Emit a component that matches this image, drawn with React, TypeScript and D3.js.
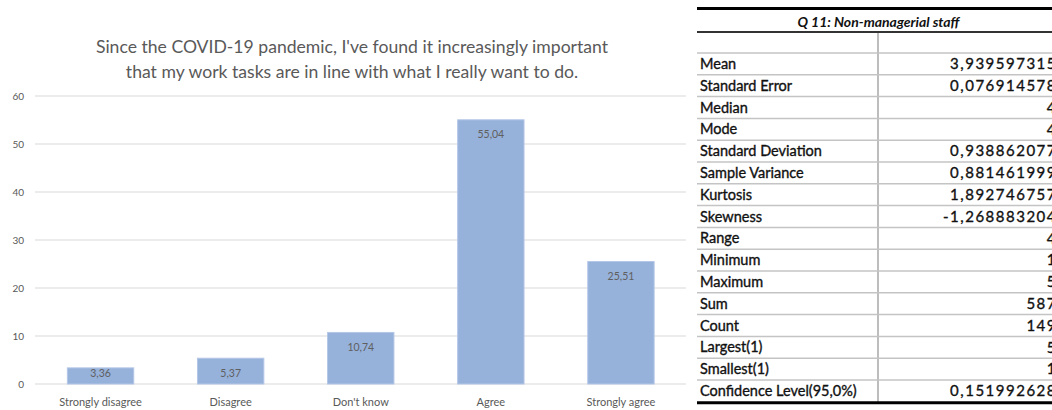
import React from "react";
import * as d3 from "d3";

const categories = ["Strongly disagree", "Disagree", "Don't know", "Agree", "Strongly agree"];
const values = [3.36, 5.37, 10.74, 55.04, 25.51];
const yTicks = [0, 10, 20, 30, 40, 50, 60];
const titleLines = [
  "Since the COVID-19 pandemic, I've found it increasingly important",
  "that my work tasks are in line with what I really want to do.",
];
const tableTitle = "Q 11: Non-managerial staff";
const statLabels = [
  "Mean", "Standard Error", "Median", "Mode", "Standard Deviation", "Sample Variance",
  "Kurtosis", "Skewness", "Range", "Minimum", "Maximum", "Sum", "Count",
  "Largest(1)", "Smallest(1)", "Confidence Level(95,0%)",
];
const statValues = [
  "3,939597315", "0,076914578", "4", "4", "0,938862077", "0,881461999",
  "1,892746757", "-1,268883204", "4", "1", "5", "587", "149",
  "5", "1", "0,151992628",
];

const W = 1052;
const H = 410;
const FONT = "Lato, 'Open Sans', sans-serif";

export default function App() {
  const x = d3.scaleBand<string>().domain(categories).range([35.5, 686]).paddingInner(0.49).paddingOuter(0.245);
  const y = d3.scaleLinear().domain([0, 60]).range([384, 96]);

  const tx0 = 697;
  const tx1 = 1060;
  const colX = 878;
  const rowTop = 53;
  const rowH = 21.8;
  const rows = d3.range(statLabels.length);

  return (
    <svg width={W} height={H} style={{ position: "absolute", left: 0, top: 0, background: "#fff" }} fontFamily={FONT}>
      <rect x={0} y={0} width={W} height={H} fill="#fff" />
      {titleLines.map((t, i) => (
        <text key={i} x={352} y={53 + i * 25} textAnchor="middle" fontSize={17.6} fill="#595959">
          {t}
        </text>
      ))}
      {yTicks.map((t) => (
        <g key={t}>
          <line x1={35} x2={686} y1={y(t)} y2={y(t)} stroke="#d9d9d9" strokeWidth={1} />
          <text x={24} y={y(t)} dy="0.35em" textAnchor="end" fontSize={10} fill="#595959">
            {t}
          </text>
        </g>
      ))}
      {categories.map((c, i) => {
        const v = values[i];
        const top = y(v);
        const ly = Math.min(top + 15, y(0) - 11);
        return (
          <g key={c}>
            <rect x={x(c)!} y={top} width={x.bandwidth()} height={y(0) - top} fill="#96b1da" stroke="#b3c6e6" strokeWidth={1} />
            <text x={x(c)! + x.bandwidth() / 2} y={ly} dy="0.35em" textAnchor="middle" fontSize={10.5} fill="#5f5f5f">
              {v.toFixed(2).replace(".", ",")}
            </text>
            <text x={x(c)! + x.bandwidth() / 2} y={402} dy="0.35em" textAnchor="middle" fontSize={11} fill="#595959">
              {c}
            </text>
          </g>
        );
      })}
      <line x1={tx0} x2={tx1} y1={8.5} y2={8.5} stroke="#000" strokeWidth={3} />
      <text x={(tx0 + tx1) / 2} y={22} dy="0.35em" textAnchor="middle" fontSize={14} fontStyle="italic" fontWeight="bold" fill="#111">
        {tableTitle}
      </text>
      <line x1={tx0} x2={tx1} y1={32} y2={32} stroke="#333" strokeWidth={2} />
      <line x1={colX} x2={colX} y1={33} y2={402} stroke="#bdbdbd" strokeWidth={2} />
      <line x1={tx0} x2={tx1} y1={rowTop} y2={rowTop} stroke="#c4c4c4" strokeWidth={1.5} />
      {rows.map((i) => {
        const top = rowTop + i * rowH;
        const cy = top + rowH / 2;
        return (
          <g key={i}>
            <text x={700} y={cy} dy="0.35em" fontSize={14.5} fill="#111" stroke="#111" strokeWidth={0.35}>
              {statLabels[i]}
            </text>
            <text x={1057} y={cy} dy="0.35em" textAnchor="end" fontSize={15} letterSpacing={1.5} fill="#111" stroke="#111" strokeWidth={0.35}>
              {statValues[i]}
            </text>
            {i < rows.length - 1 && (
              <line x1={tx0} x2={tx1} y1={top + rowH} y2={top + rowH} stroke="#c4c4c4" strokeWidth={1.5} />
            )}
          </g>
        );
      })}
      <line x1={tx0} x2={tx1} y1={rowTop + statLabels.length * rowH + 1} y2={rowTop + statLabels.length * rowH + 1} stroke="#000" strokeWidth={3} />
    </svg>
  );
}
